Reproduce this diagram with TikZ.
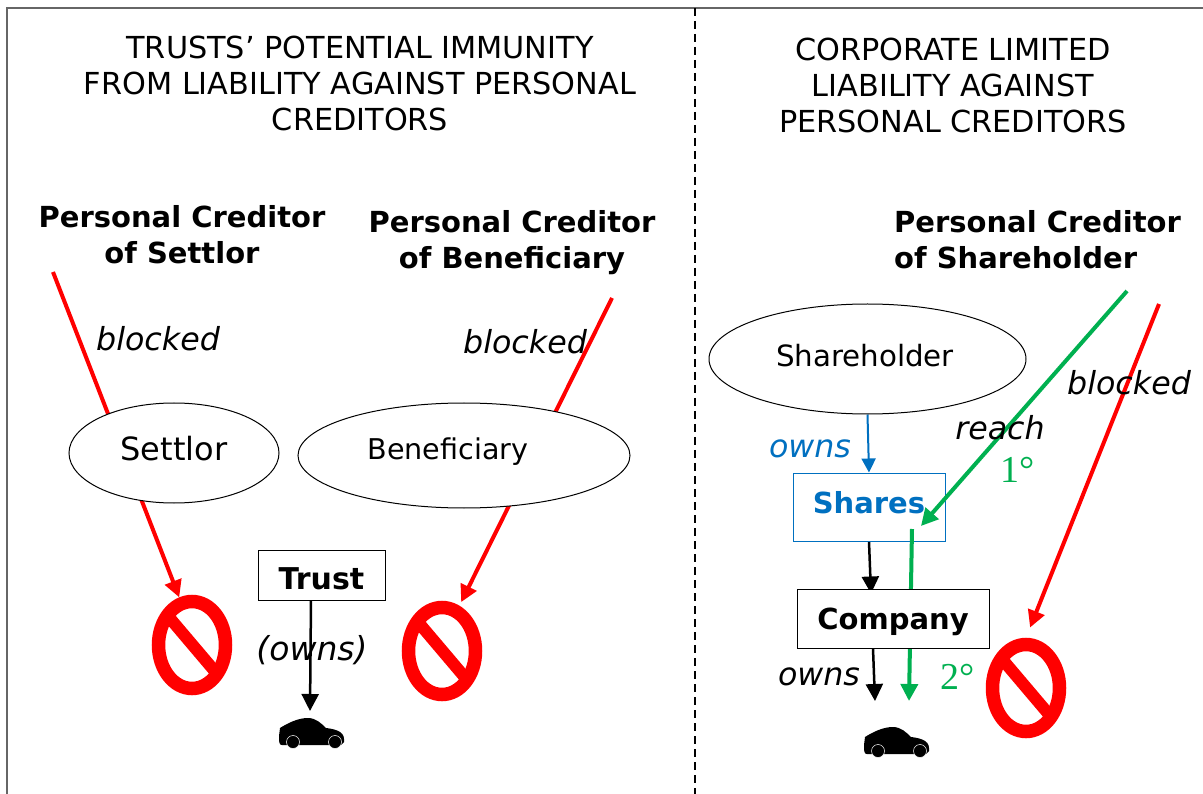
\documentclass[tikz,border=0pt]{standalone}
\usepackage{fontspec}
\setmainfont{DejaVu Sans}
\newfontfamily\degfont{Liberation Serif}
\usetikzlibrary{arrows.meta, positioning, calc, shapes.geometric, backgrounds}

\definecolor{banred}{HTML}{FF0000}
\definecolor{reachgreen}{HTML}{00B050}
\definecolor{sharesblue}{HTML}{0070C0}

\newcommand{\basedrop}[2]{\raisebox{#1}[0pt][0pt]{#2}}

\tikzset{
    banring/.style={ellipse, draw=banred, line width=13.5pt, minimum width=67pt, minimum height=87pt, inner sep=0pt},
    banbar/.style={draw=banred, line width=12pt},
    nosign/.pic={
        \node[banring] (-ring) {};
        \draw[banbar] (-24,-29) -- (26,30);
    },
    carshape/.pic={
        \coordinate (-top) at (29,-7);
        \fill[black] (1,10) .. controls (9,5) and (19,0) .. (29,0) .. controls (37,0) and (43,6) .. (47,10) .. controls (55,11) and (65,13) .. (65,21) -- (65,24) -- (62,27) -- (3,27) .. controls (0,27) and (0,24) .. (0,18) -- cycle;
        \filldraw[fill=black, draw=white, line width=0.5pt] (14,24) circle (6.5) (56,24) circle (6.5);
    }
}

\begin{document}
\begin{tikzpicture}[
    x=1pt, y=-1pt,
    title/.style={font=\fontsize{30.3}{36}\selectfont, align=center, inner sep=0pt},
    creditor/.style={font=\fontsize{29}{36}\selectfont\bfseries, align=center, inner sep=0pt},
    person/.style={ellipse, draw, fill=white, line width=1pt, inner sep=0pt},
    holding/.style={rectangle, draw, fill=white, line width=1pt, inner sep=0pt, font=\fontsize{29}{32}\selectfont\bfseries},
    note/.style={font=\fontsize{31.7}{36}\selectfont\itshape, inner sep=0pt},
    degree/.style={font=\fontsize{38}{40}\selectfont\degfont, text=reachgreen, inner sep=0pt},
    redarrow/.style={-{Triangle[length=17pt,width=17pt]}, draw=banred, line width=4pt},
    greenarrow/.style={-{Triangle[length=17pt,width=17pt]}, draw=reachgreen, line width=4pt},
    blackarrow/.style={-{Triangle[length=17pt,width=17pt]}, draw=black, line width=2.5pt},
    bluearrow/.style={-{Triangle[length=14pt,width=14pt]}, draw=sharesblue, line width=2pt}
]

    % ============================================================
    % PAGE AND DIVIDER
    % ============================================================
    \useasboundingbox (0,0) rectangle (1203,794);
    \coordinate (corner) at (7,8);
    \coordinate (cornerbot) at (7,794);
    \coordinate (cornerright) at (1203,8);
    \coordinate (divtop) at (695,8);
    \coordinate (divbot) at (695,794);

    % ============================================================
    % LEFT PANEL: TRUST
    % ============================================================
    \node[title] (trusttitle) at (360,83.5) {TRUSTS’ POTENTIAL IMMUNITY\\FROM LIABILITY AGAINST PERSONAL\\CREDITORS};
    \node[creditor] (settlorcred) at (182,235) {Personal Creditor\\of Settlor};
    \node[creditor] (benefcred) at (512,243) {Personal Creditor\\of Beneficiary};

    \node[person, minimum width=210pt, minimum height=100pt, font=\fontsize{32}{36}\selectfont] (settlor) at (174,453) {\basedrop{-8pt}{Settlor}};
    \node[person, minimum width=332pt, minimum height=105pt, font=\fontsize{28.6}{32}\selectfont] (beneficiary) at (464,455.5) {\basedrop{-4.5pt}{Beneficiary\hspace{32pt}}};
    \node[holding, font=\fontsize{30}{32}\selectfont\bfseries, minimum width=127pt, minimum height=50pt] (trust) at (321.5,575) {\basedrop{-14pt}{Trust}};

    \pic (ban1) at (192,645) {nosign};
    \pic (ban2) at (442,651) {nosign};
    \pic (car1) at (279,718) {carshape};

    \node[note] (blocked1) at (158,339) {blocked};
    \node[note] (blocked2) at (525,342) {blocked};
    \node[note, font=\fontsize{33}{36}\selectfont\itshape] (ownsparen) at (312,650) {(owns)};

    % ============================================================
    % RIGHT PANEL: COMPANY
    % ============================================================
    \node[title] (corptitle) at (953,85.5) {CORPORATE LIMITED\\LIABILITY AGAINST\\PERSONAL CREDITORS};
    \node[creditor, align=left] (sharecred) at (1037.5,240) {Personal Creditor\\of Shareholder};

    \node[person, minimum width=317pt, minimum height=110pt, font=\fontsize{29.3}{32}\selectfont] (shareholder) at (867.5,359) {\basedrop{-8pt}{Shareholder\hspace{5pt}}};
    \node[holding, draw=sharesblue, text=sharesblue, minimum width=152pt, minimum height=68pt] (shares) at (869,507) {\basedrop{-6pt}{Shares}};

    \pic (ban3) at (1026,688) {nosign};
    \pic (car2) at (864,727) {carshape};

    \coordinate (greenfrom) at (1127,291);
    \coordinate (greento) at (921,526);
    \coordinate (seconddeg) at (912,529);
    % green runs over the Shares box but under the Company box
    \draw[greenarrow] (greenfrom) -- (greento);
    \draw[greenarrow] (seconddeg) -- ([xshift=16pt,yshift=19pt]car2-top);

    \node[holding, minimum width=192pt, minimum height=59pt, below=47pt of shares, xshift=24pt] (company) {\basedrop{-10.5pt}{Company}};

    \node[note, text=sharesblue] (ownsblue) at (810,449) {owns};
    \node[note] (ownsblack) at (819,677) {owns};
    \node[note] (reachtxt) at (1000,428) {reach};
    \node[note] (blocked3) at (1129,383) {blocked};
    \node[degree] (deg1) at (1018,470) {1°};
    \node[degree] (deg2) at (958,677) {2°};

    \coordinate (settlorfrom) at (53,272);
    \coordinate (beneffrom) at (612,298);
    \coordinate (redfrom) at (1159,304);

    % ============================================================
    % CONNECTIONS (behind the nodes)
    % ============================================================
    \begin{scope}[on background layer]
        \fill[white] (0,0) rectangle (1203,794);
        \draw[line width=2pt, black!60] (cornerbot) -- (corner) -- (cornerright);
        \draw[line width=2pt, dash pattern=on 8pt off 5pt] (divtop) -- (divbot);

        \draw[redarrow] (settlorfrom) -- (ban1-ring.105);
        \draw[redarrow, shorten >=4pt] (beneffrom) -- (ban2-ring.69);
        \draw[redarrow, shorten >=11pt] (redfrom) -- (ban3-ring.north);

        \draw[blackarrow] ([xshift=-10.5pt]trust.south) -- ([xshift=2pt]car1-top);
        \draw[bluearrow] (shareholder.south) -- (shares.north);
        \draw[blackarrow] (shares.south) -- ([xshift=-22pt,yshift=-5pt]company.north);
        \draw[blackarrow] ([xshift=-20pt]company.south) -- ([xshift=-18pt,yshift=19pt]car2-top);
    \end{scope}

\end{tikzpicture}
\end{document}
